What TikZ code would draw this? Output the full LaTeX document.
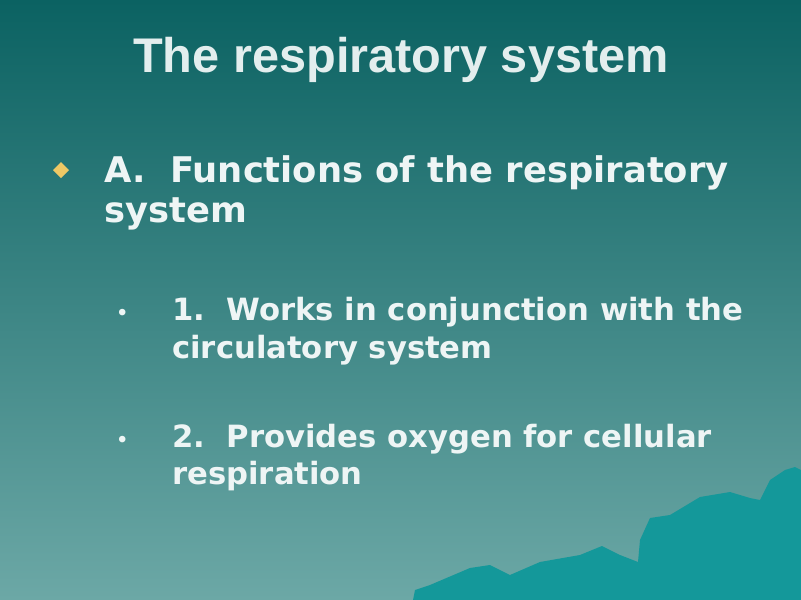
\documentclass[tikz,border=0pt]{standalone}
\usepackage{fontspec}
\setmainfont{DejaVu Sans}
\newfontfamily\titlefont{Liberation Sans}
\definecolor{bgTop}{HTML}{0B6262}
\definecolor{bgBot}{HTML}{6CA8A6}
\definecolor{hill}{HTML}{14989A}
\definecolor{slideText}{HTML}{EEF5F5}
\definecolor{diamondYellow}{HTML}{EEC865}
\tikzset{
	slideLine/.style={anchor=base west, text=slideText, font=\bfseries\fontsize{26.5}{30}\selectfont, inner sep=0pt},
	subLine/.style={anchor=base west, text=slideText, font=\bfseries\fontsize{23}{27}\selectfont, inner sep=0pt},
}
\begin{document}
\begin{tikzpicture}[x=0.75pt, y=-0.75pt]
	\shade[top color=bgTop, bottom color=bgBot] (0,0) rectangle (801,600);
	\useasboundingbox (0,0) rectangle (801,600);
	% hills in the corner
	\fill[hill] (413,600) -- (415,590) -- (430,585) -- (470,568) -- (490,565) -- (510,575) -- (540,562) -- (580,555) -- (602,546) -- (620,555) -- (638,562) -- (640,540) -- (650,518) -- (670,515) -- (700,497) -- (730,492) -- (750,498) -- (760,500) -- (770,480) -- (785,470) -- (795,467) -- (801,470) -- (801,600) -- cycle;

	\node[text=slideText!95!bgTop, font=\titlefont\bfseries\fontsize{36.5}{40}\selectfont](title) at (401,60){The respiratory system};

	\fill[diamondYellow] (61,162) -- (69,170) -- (61,178) -- (53,170) -- cycle;
	\node[slideLine](lineA) at (104,182){A.\ \ Functions of the respiratory};
	\node[slideLine](lineA2) at (104,222){system};

	\node[subLine, font=\bfseries\fontsize{14}{16}\selectfont](dotOne) at (116,319){•};
	\node[subLine](itemOne) at (172,320){1.\ \ Works in conjunction with the};
	\node[subLine](itemOne2) at (172,358){circulatory system};
	\node[subLine, font=\bfseries\fontsize{14}{16}\selectfont](dotTwo) at (116,446){•};
	\node[subLine](itemTwo) at (172,447){2.\ \ Provides oxygen for cellular};
	\node[subLine](itemTwo2) at (172,484){respiration};
\end{tikzpicture}
\end{document}
